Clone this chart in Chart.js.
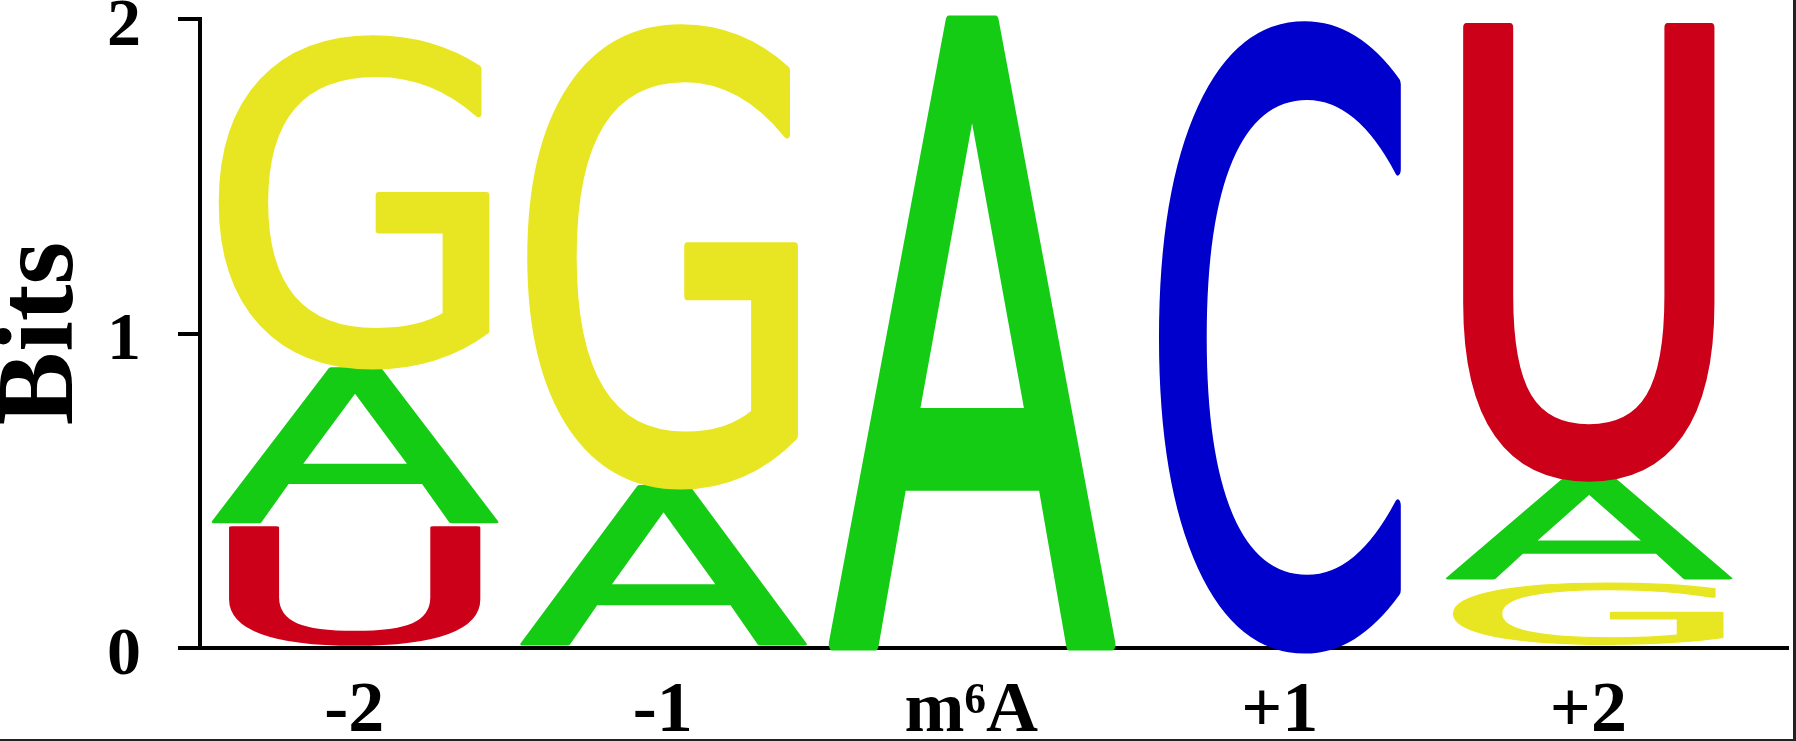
<!DOCTYPE html>
<html>
<head>
<meta charset="utf-8">
<script src="https://cdn.jsdelivr.net/npm/chart.js@4.4.1/dist/chart.umd.min.js"></script>
<style>
html,body{margin:0;padding:0;background:#fff;overflow:hidden}
canvas{display:block}
</style>
</head>
<body>
<canvas id="c" width="1796" height="741" style="width:1796px;height:741px"></canvas>
<script>
// ---- data ----
const positions = ['-2', '-1', 'm\u2076A', '+1', '+2'];
const yTickValues = [0, 1, 2];

// stack level 1 = bottom letter of each column
const level1Letters = ['U', 'A', 'A', 'C', 'G'];
const level1Bits    = [0.395, 0.52, 2.0, 2.0, 0.215];
const level2Letters = ['A', 'G', '', '', 'A'];
const level2Bits    = [0.50, 1.47, 0, 0, 0.33];
const level3Letters = ['G', '', '', '', 'U'];
const level3Bits    = [1.06, 0, 0, 0, 1.455];

// ---- styles ----
const letterColors = {A: '#14cc14', C: '#0000cc', G: '#e8e622', U: '#cc0019'};
const letterWidthFrac = {A: 0.925, C: 0.78, G: 0.875, U: 0.81};
const glyphInset = 2;

function toPoints(bits) { return bits.map((v, i) => ({x: i, y: v})); }

const levels = [
  {label: 'level 1', letters: level1Letters, bits: level1Bits},
  {label: 'level 2', letters: level2Letters, bits: level2Bits},
  {label: 'level 3', letters: level3Letters, bits: level3Bits}
];

const datasets = levels.map(l => ({
  label: l.label,
  letters: l.letters,
  data: toPoints(l.bits),
  backgroundColor: 'rgba(0,0,0,0)',
  borderWidth: 0,
  barPercentage: 1,
  categoryPercentage: 1
}));

function drawGlyph(ctx, L, cx, top, bottom, w) {
  ctx.save();
  ctx.font = '100px "DejaVu Sans"';
  ctx.textAlign = 'left';
  ctx.textBaseline = 'alphabetic';
  const m = ctx.measureText(L);
  const gl = -m.actualBoundingBoxLeft, gr = m.actualBoundingBoxRight;
  const gt = -m.actualBoundingBoxAscent, gb = m.actualBoundingBoxDescent;
  const sx = w / (gr - gl), sy = (bottom - top) / (gb - gt);
  ctx.translate(cx - w / 2, top);
  ctx.scale(sx, sy);
  ctx.fillStyle = letterColors[L];
  ctx.strokeStyle = letterColors[L];
  ctx.lineWidth = 1.5;
  ctx.lineJoin = 'round';
  ctx.fillText(L, -gl, -gt);
  ctx.strokeText(L, -gl, -gt);
  ctx.restore();
}

const logoPlugin = {
  id: 'logoLetters',
  afterDatasetsDraw(chart) {
    const ctx = chart.ctx;
    chart.data.datasets.forEach((ds, di) => {
      const meta = chart.getDatasetMeta(di);
      meta.data.forEach((el, i) => {
        const L = ds.letters[i];
        if (!L) return;
        const p = el.getProps(['x', 'y', 'base', 'width'], true);
        const top = Math.min(p.y, p.base), bot = Math.max(p.y, p.base);
        if (bot - top < 3) return;
        drawGlyph(ctx, L, p.x, top + glyphInset, bot - glyphInset, p.width * letterWidthFrac[L]);
      });
    });
  },
  afterDraw(chart) {
    const ctx = chart.ctx;
    ctx.save();
    ctx.fillStyle = '#222';
    ctx.fillRect(1793, 0, 3, 741);
    ctx.fillRect(0, 739, 1796, 2);
    ctx.restore();
  }
};

const serif = '"Liberation Serif", "Times New Roman", serif';

new Chart(document.getElementById('c'), {
  type: 'bar',
  data: {datasets},
  plugins: [logoPlugin],
  options: {
    responsive: false,
    devicePixelRatio: 1,
    animation: false,
    layout: {padding: {top: 19, right: 8, bottom: 0, left: 0}, autoPadding: false},
    plugins: {legend: {display: false}, tooltip: {enabled: false}},
    scales: {
      x: {
        type: 'linear',
        min: -0.5,
        max: 4.647,
        stacked: true,
        offset: false,
        afterBuildTicks: s => { s.ticks = positions.map((_, i) => ({value: i})); },
        afterFit: s => { s.height = 93; s.paddingLeft = 0; s.paddingRight = 0; },
        grid: {display: false, drawTicks: false},
        border: {display: true, color: '#000', width: 4},
        ticks: {
          autoSkip: false,
          maxRotation: 0,
          color: '#000',
          padding: 28,
          font: {family: serif, weight: 'bold', size: 72, lineHeight: 1},
          callback: v => positions[v] !== undefined ? positions[v] : ''
        }
      },
      y: {
        min: 0,
        max: 2,
        stacked: true,
        afterBuildTicks: s => { s.ticks = yTickValues.map(v => ({value: v})); },
        afterFit: s => { s.width = 200; s.paddingTop = 0; s.paddingBottom = 0; },
        grid: {display: true, drawOnChartArea: false, drawTicks: true, tickLength: 22, lineWidth: 4, color: '#000'},
        border: {display: true, color: '#000', width: 4},
        ticks: {
          color: '#000',
          padding: 37,
          labelOffset: 8,
          font: {family: serif, weight: 'bold', size: 68, lineHeight: 1},
          callback: v => String(v)
        },
        title: {
          display: true,
          text: 'Bits',
          color: '#000',
          padding: 0,
          font: {family: serif, weight: 'bold', size: 110, lineHeight: 0.8}
        }
      }
    }
  }
});
</script>
</body>
</html>
